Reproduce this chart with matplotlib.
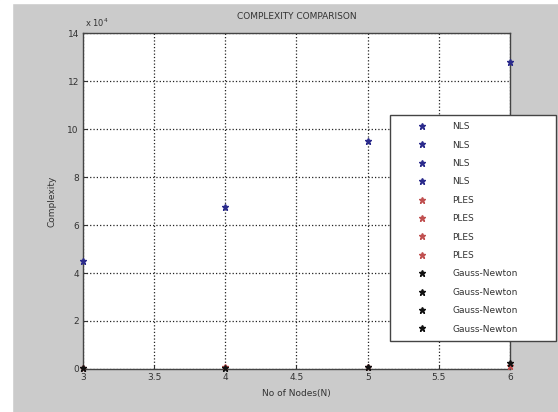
import matplotlib
matplotlib.use("Agg")
import matplotlib.pyplot as plt
from matplotlib.patches import Rectangle

# values (units of 1e4)
nodes = [3, 4, 5, 6]
nls = [4.5, 6.75, 9.5, 12.8]
ples = [0.05, 0.08, 0.1, 0.12]
gauss_newton = [0.03, 0.05, 0.08, 0.25]
xticks = [3, 3.5, 4, 4.5, 5, 5.5, 6]
yticks = [0, 2, 4, 6, 8, 10, 12, 14]

series = [("NLS", nls, "#2b2b8c"), ("PLES", ples, "#c05050"), ("Gauss-Newton", gauss_newton, "#111111")]

fig = plt.figure(figsize=(5.58, 4.12), dpi=100, facecolor="#cbcbcb")
# white strips at the edges of the scanned picture
fig.patches.append(Rectangle((0, 0), 12 / 558, 1, transform=fig.transFigure, color="white", zorder=-1))
fig.patches.append(Rectangle((0, 1 - 3 / 412), 1, 3 / 412, transform=fig.transFigure, color="white", zorder=-1))

ax = fig.add_axes([83 / 558, 1 - 369 / 412, (510 - 83) / 558, (369 - 33) / 412])
ax.set_facecolor("white")

for name, vals, col in series:
    for x, y in zip(nodes, vals):
        ax.plot([x], [y], "*", color=col, ms=5, label=name, clip_on=False, zorder=3)

ax.set_xlim(3, 6)
ax.set_ylim(0, 14)
ax.set_xticks(xticks)
ax.set_xticklabels([f"{t:g}" for t in xticks])
ax.set_yticks(yticks)
ax.tick_params(direction="in", labelsize=6.5, colors="#333333", length=3, pad=3)
ax.grid(True, ls=":", color="#222222", lw=0.9)
for sp in ax.spines.values():
    sp.set_color("#444444")
    sp.set_linewidth(1.0)

ax.set_title("COMPLEXITY COMPARISON", fontsize=6.5, color="#333333", pad=10)
ax.set_xlabel("No of Nodes(N)", fontsize=6.5, color="#333333", labelpad=5)
ax.set_ylabel("Complexity", fontsize=6.5, color="#333333", labelpad=8)
ax.text(0.005, 1.012, r"x 10$^4$", transform=ax.transAxes, fontsize=6, color="#333333", va="bottom")

leg = ax.legend(loc="upper left", bbox_to_anchor=(390 / 558, 1 - 339 / 412, 166 / 558, 224 / 412),
                bbox_transform=fig.transFigure, mode="expand", borderaxespad=0, fontsize=6.5,
                labelspacing=1.04, handletextpad=0.6, borderpad=0.8, handlelength=5.5,
                fancybox=False, framealpha=1, edgecolor="#444444")
leg.get_frame().set_linewidth(1.0)
for t in leg.get_texts():
    t.set_color("#333333")

fig.savefig("out.png", dpi=100, facecolor=fig.get_facecolor())
